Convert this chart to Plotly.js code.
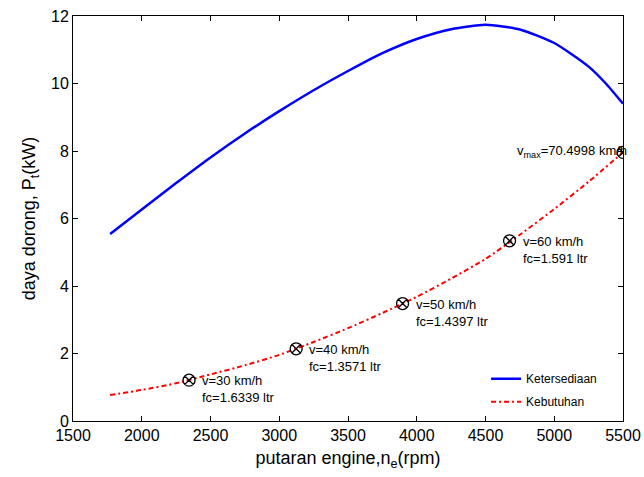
<!DOCTYPE html>
<html>
<head>
<meta charset="utf-8">
<script src="https://cdn.plot.ly/plotly-3.0.1.min.js"></script>
<style>html,body{margin:0;padding:0;background:#fff;}#chart{width:644px;height:477px;}</style>
</head>
<body>
<div id="chart"></div>
<script>
// Engine speed (rpm) and power (kW)
var rpmSupply = [1770, 2000, 2250, 2500, 2750, 3000, 3250, 3500, 3750, 4000, 4250, 4500, 4750, 5000, 5250, 5375, 5500];
var powerSupply = [5.54, 6.27, 7.05, 7.81, 8.52, 9.18, 9.80, 10.37, 10.90, 11.32, 11.61, 11.74, 11.60, 11.20, 10.50, 10.00, 9.40];

var rpmDemand = [1770, 2000, 2250, 2500, 2750, 3000, 3250, 3500, 3750, 4000, 4250, 4500, 4750, 5000, 5250, 5500];
var powerDemand = [0.77, 0.92, 1.12, 1.38, 1.65, 1.96, 2.34, 2.75, 3.20, 3.68, 4.22, 4.80, 5.52, 6.28, 7.09, 7.96];

var pointRpm = [2344, 3123, 3897, 4675, 5500];
var pointPower = [1.21, 2.14, 3.48, 5.34, 7.96];
var pointLabels = [
  "v=30 km/h<br>fc=1.6339 ltr",
  "v=40 km/h<br>fc=1.3571 ltr",
  "v=50 km/h<br>fc=1.4397 ltr",
  "v=60 km/h<br>fc=1.591 ltr",
  "v<sub>max</sub>=70.4998 km/h"
];
var seriesNames = ["Ketersediaan", "Kebutuhan"];
var xTicks = [1500, 2000, 2500, 3000, 3500, 4000, 4500, 5000, 5500];
var yTicks = [0, 2, 4, 6, 8, 10, 12];

var FONT = "Liberation Sans, Arial, sans-serif";

var traces = [
  {x: rpmSupply, y: powerSupply, mode: "lines", name: seriesNames[0], legendgroup: "a",
   line: {color: "#0000ff", width: 2.5, shape: "spline", smoothing: 0.6}},
  {x: rpmDemand, y: powerDemand, mode: "lines", name: seriesNames[1], legendgroup: "b",
   line: {color: "#ff0000", width: 2, dash: "5px,3px,2px,3px", shape: "spline", smoothing: 0.6}},
  {x: pointRpm, y: pointPower, mode: "markers", showlegend: false,
   marker: {symbol: "circle-x-open", size: 12, color: "#000", line: {width: 1.3, color: "#000"}}}
];

var annotations = pointLabels.map(function (t, i) {
  var last = i === pointLabels.length - 1;
  return {
    x: pointRpm[i], y: pointPower[i], xref: "x", yref: "y",
    text: t, showarrow: false, align: "left",
    xanchor: last ? "right" : "left",
    yanchor: last ? "middle" : "top",
    xshift: last ? 6 : 11,
    yshift: last ? 1 : 9,
    font: {family: FONT, size: 13, color: "#000"}
  };
});

var axisCommon = {
  showgrid: false, zeroline: false, showline: true, linecolor: "#000", linewidth: 1,
  mirror: "ticks", ticks: "inside", ticklen: 5, tickcolor: "#000", tickwidth: 1,
  tickfont: {family: FONT, size: 16, color: "#000"}
};

var layout = {
  width: 644, height: 477,
  margin: {l: 73, r: 21, t: 16, b: 56},
  paper_bgcolor: "#fff", plot_bgcolor: "#fff",
  font: {family: FONT, color: "#000"},
  showlegend: true,
  legend: {x: 0.751, y: 0.14, xanchor: "left", yanchor: "top", bgcolor: "rgba(255,255,255,0)",
           borderwidth: 0, font: {family: FONT, size: 12, color: "#000"},
           traceorder: "grouped", tracegroupgap: 4},
  xaxis: Object.assign({}, axisCommon, {
    range: [1500, 5500], tickvals: xTicks, ticktext: xTicks.map(String),
    title: {text: "putaran engine,n<sub>e</sub>(rpm)", font: {family: FONT, size: 18, color: "#000"}, standoff: 8}
  }),
  yaxis: Object.assign({}, axisCommon, {
    range: [0, 12], tickvals: yTicks, ticktext: yTicks.map(String),
    title: {text: "daya dorong, P<sub>t</sub>(kW)", font: {family: FONT, size: 18, color: "#000"}, standoff: 10}
  }),
  annotations: annotations
};

Plotly.newPlot("chart", traces, layout, {displayModeBar: false, staticPlot: true});
</script>
</body>
</html>
